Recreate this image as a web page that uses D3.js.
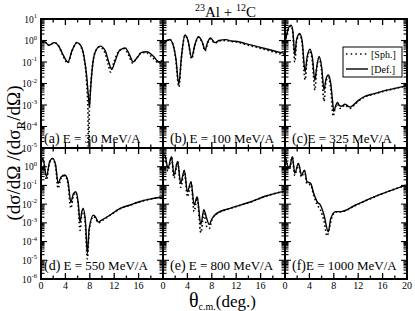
<!DOCTYPE html>
<html>
<head>
<meta charset="utf-8">
<script src="https://cdn.jsdelivr.net/npm/d3@7"></script>
<style>
  body { margin: 0; background: #fff; }
  text { font-family: "Liberation Serif", "Times New Roman", serif; fill: #000; }
</style>
</head>
<body>
<div id="chart"></div>
<script>
// energies and tags of the six panels
const energies = [30, 100, 325, 550, 800, 1000];
const panelTags = ["(a)", "(b)", "(c)", "(d)", "(e)", "(f)"];
const xTickValues = [0, 4, 8, 12, 16, 20];
const topDecades = [1, 0, -1, -2, -3, -4, -5];
const bottomDecades = [0, -1, -2, -3, -4, -5, -6];

// [theta (deg), ratio]
const defA = [[0,0.85],[0.6,0.85],[1.3,0.6],[2.2,0.8],[2.9,0.55],[3.6,0.22],[4.4,0.1],[5.1,0.35],[5.9,0.8],[6.5,0.6],[7.1,0.15],[7.5,0.02],[7.8,0.002],[7.95,0.0008],[8.1,0.004],[8.4,0.05],[8.9,0.3],[9.7,0.55],[10.5,0.35],[11.1,0.1],[11.6,0.045],[12.1,0.1],[12.9,0.35],[13.8,0.45],[14.5,0.22],[15.1,0.1],[15.7,0.15],[16.5,0.28],[17.4,0.3],[18.3,0.2],[19.4,0.1],[20,0.13]];
const sphA = [[0,0.85],[0.6,0.85],[1.3,0.6],[2.2,0.8],[2.9,0.55],[3.6,0.2],[4.4,0.09],[5.1,0.33],[5.9,0.8],[6.5,0.55],[7.1,0.12],[7.5,0.01],[7.7,0.0005],[7.8,0.000001],[7.9,0.0003],[8.1,0.005],[8.4,0.05],[8.9,0.3],[9.6,0.5],[10.4,0.3],[11,0.08],[11.4,0.035],[11.9,0.09],[12.8,0.33],[13.6,0.42],[14.4,0.2],[15,0.09],[15.6,0.14],[16.4,0.26],[17.2,0.28],[18.2,0.17],[19.3,0.09],[20,0.12]];

const defB = [[0,0.7],[0.5,0.95],[1.1,1.1],[1.6,0.7],[2.1,0.15],[2.6,0.009],[3.0,0.15],[3.6,1.8],[4.1,1.0],[4.7,0.16],[5.2,0.6],[5.8,1.5],[6.4,0.9],[6.9,0.37],[7.3,0.8],[7.8,1.3],[8.5,0.8],[9.2,1.0],[10.3,1.1],[11.2,0.95],[12.2,0.9],[13.5,0.72],[15.5,0.52],[17.5,0.37],[19.2,0.28],[20,0.25]];
const sphB = [[0,0.7],[0.5,0.95],[1.1,1.1],[1.6,0.7],[2.1,0.13],[2.6,0.007],[3.0,0.13],[3.6,1.7],[4.1,0.95],[4.7,0.14],[5.2,0.55],[5.8,1.4],[6.4,0.85],[6.9,0.33],[7.3,0.75],[7.8,1.2],[8.5,0.75],[9.2,0.95],[10.3,1.0],[11.2,0.9],[12.2,0.85],[13.5,0.66],[15.5,0.47],[17.5,0.33],[19.2,0.24],[20,0.21]];

const defC = [[0,0.8],[0.3,2],[0.7,4.5],[1.0,5.2],[1.3,2.5],[1.6,0.21],[1.9,1.1],[2.4,2.1],[2.8,1.0],[3.3,0.035],[3.6,0.15],[4.1,0.39],[4.5,0.15],[4.9,0.014],[5.2,0.06],[5.6,0.18],[6.0,0.06],[6.4,0.005],[6.7,0.015],[7.1,0.025],[7.5,0.01],[7.8,0.0015],[8.0,0.0005],[8.3,0.0009],[8.6,0.0013],[9.0,0.0009],[9.4,0.0009],[9.8,0.0011],[10.3,0.0009],[10.7,0.0008],[11.2,0.001],[12,0.0016],[13.1,0.0025],[14.5,0.0033],[15.8,0.0042],[17.5,0.0055],[20,0.008]];
const sphC = [[0,0.8],[0.3,2],[0.7,4.2],[1.0,4.8],[1.3,2.0],[1.6,0.1],[1.9,0.9],[2.4,1.9],[2.8,0.8],[3.3,0.015],[3.6,0.12],[4.1,0.33],[4.5,0.1],[4.9,0.005],[5.2,0.05],[5.6,0.15],[6.0,0.04],[6.4,0.0015],[6.7,0.012],[7.1,0.02],[7.5,0.006],[7.9,0.0003],[8.2,0.0007],[8.6,0.0011],[9.0,0.0007],[9.4,0.0008],[9.8,0.001],[10.3,0.0008],[10.7,0.0007],[11.2,0.0009],[12,0.0015],[13.1,0.0024],[14.5,0.0032],[15.8,0.0041],[17.5,0.0054],[20,0.0078]];

const defD = [[0,1.4],[0.3,2.8],[0.9,0.3],[1.4,1.8],[1.9,2.8],[2.4,1.2],[2.8,0.13],[3.3,0.28],[3.9,0.36],[4.4,0.18],[4.9,0.013],[5.3,0.035],[5.7,0.046],[6.1,0.012],[6.4,0.0011],[6.7,0.004],[6.9,0.006],[7.3,0.001],[7.6,0.000023],[7.9,0.0005],[8.6,0.0026],[9.0,0.0019],[9.4,0.0011],[9.8,0.0013],[11.3,0.0026],[13,0.006],[14.6,0.009],[16,0.013],[18,0.019],[20,0.025]];
const sphD = [[0,1.4],[0.3,2.7],[0.9,0.2],[1.4,1.7],[1.9,2.7],[2.4,1.0],[2.8,0.07],[3.3,0.25],[3.9,0.33],[4.4,0.14],[4.9,0.006],[5.3,0.03],[5.7,0.042],[6.1,0.008],[6.4,0.0004],[6.7,0.0035],[6.9,0.005],[7.3,0.0006],[7.6,0.000012],[7.9,0.0004],[8.6,0.0022],[9.0,0.0016],[9.4,0.001],[9.8,0.0012],[11.3,0.0025],[13,0.0058],[14.6,0.0088],[16,0.0128],[18,0.0188],[20,0.0248]];

const defE = [[0,3.5],[0.3,4.2],[0.8,0.82],[1.4,3.4],[1.8,0.36],[2.4,1.9],[2.9,0.13],[3.5,0.66],[4.0,0.046],[4.6,0.16],[5.1,0.009],[5.6,0.025],[6.2,0.0008],[6.7,0.005],[7.1,0.002],[7.6,0.0008],[8.0,0.0016],[8.8,0.0032],[11,0.006],[14.3,0.013],[17,0.028],[20,0.05]];
const sphE = [[0,3.5],[0.3,4.0],[0.8,0.6],[1.4,3.2],[1.8,0.25],[2.4,1.8],[2.9,0.08],[3.5,0.6],[4.0,0.025],[4.6,0.14],[5.1,0.004],[5.6,0.022],[6.2,0.0003],[6.7,0.003],[7.2,0.0006],[7.6,0.0005],[8.0,0.0014],[8.8,0.003],[11,0.0058],[14.3,0.0128],[17,0.0278],[20,0.0498]];

const defF = [[0,4.2],[0.7,0.82],[1.2,3.4],[1.6,0.45],[2.2,1.5],[2.7,0.36],[3.2,0.66],[3.6,0.16],[4.2,0.13],[4.7,0.038],[5.3,0.013],[5.8,0.009],[6.4,0.0026],[7.1,0.00033],[7.5,0.0017],[8.3,0.004],[9.2,0.004],[11.6,0.009],[15.4,0.031],[20,0.108]];
const sphF = [[0,4.2],[0.7,0.7],[1.2,3.2],[1.6,0.35],[2.2,1.4],[2.7,0.28],[3.2,0.6],[3.6,0.12],[4.2,0.11],[4.7,0.03],[5.3,0.009],[5.8,0.005],[6.4,0.0012],[6.9,0.0002],[7.3,0.0006],[7.6,0.0016],[8.3,0.0038],[9.2,0.0039],[11.6,0.0088],[15.4,0.0305],[20,0.107]];

const defSeries = [defA, defB, defC, defD, defE, defF];
const sphSeries = [sphA, sphB, sphC, sphD, sphE, sphF];

const width = 415;
const height = 311;
const colEdges = [41, 163, 285, 407];
const rowEdges = [19, 148, 279];

const svg = d3.select("#chart").append("svg")
  .attr("width", width)
  .attr("height", height);

energies.forEach((energy, i) => {
  const col = i % 3;
  const row = Math.floor(i / 3);
  const x0 = colEdges[col], x1 = colEdges[col + 1];
  const y0 = rowEdges[row], y1 = rowEdges[row + 1];

  const x = d3.scaleLinear().domain([0, 20]).range([x0, x1]);
  const y = d3.scaleLog().domain([row === 0 ? 1e-5 : 1e-6, 10]).range([y1, y0]);

  const g = svg.append("g");

  svg.append("clipPath").attr("id", "clip" + i)
    .append("rect")
    .attr("x", x0).attr("y", y0)
    .attr("width", x1 - x0).attr("height", y1 - y0);

  const line = d3.line()
    .x(d => x(d[0]))
    .y(d => y(d[1]))
    .curve(d3.curveMonotoneX);

  g.append("path")
    .attr("clip-path", `url(#clip${i})`)
    .attr("d", line(sphSeries[i]))
    .attr("fill", "none")
    .attr("stroke", "#000")
    .attr("stroke-width", 1.7)
    .attr("stroke-dasharray", "1.5,2.6");

  g.append("path")
    .attr("clip-path", `url(#clip${i})`)
    .attr("d", line(defSeries[i]))
    .attr("fill", "none")
    .attr("stroke", "#000")
    .attr("stroke-width", 1.4);

  // x ticks, top and bottom, pointing inward
  const xt = d3.range(0, 21, 2);
  g.selectAll(".xb").data(xt).join("line")
    .attr("x1", d => x(d)).attr("x2", d => x(d))
    .attr("y1", y1).attr("y2", d => y1 - (d % 4 === 0 ? 6 : 3.5))
    .attr("stroke", "#000").attr("stroke-width", 1.3);
  g.selectAll(".xt").data(xt).join("line")
    .attr("x1", d => x(d)).attr("x2", d => x(d))
    .attr("y1", y0).attr("y2", d => y0 + (d % 4 === 0 ? 6 : 3.5))
    .attr("stroke", "#000").attr("stroke-width", 1.3);

  // log ticks, left and right
  const yt = y.ticks();
  const isMajor = d => Math.abs(Math.log10(d) - Math.round(Math.log10(d))) < 1e-6;
  g.selectAll(".yl").data(yt).join("line")
    .attr("x1", x0).attr("x2", d => x0 + (isMajor(d) ? 6 : 3.5))
    .attr("y1", d => y(d)).attr("y2", d => y(d))
    .attr("stroke", "#000").attr("stroke-width", 1.1);
  g.selectAll(".yr").data(yt).join("line")
    .attr("x1", x1).attr("x2", d => x1 - (isMajor(d) ? 6 : 3.5))
    .attr("y1", d => y(d)).attr("y2", d => y(d))
    .attr("stroke", "#000").attr("stroke-width", 1.1);

  g.append("rect")
    .attr("x", x0).attr("y", y0)
    .attr("width", x1 - x0).attr("height", y1 - y0)
    .attr("fill", "none")
    .attr("stroke", "#000")
    .attr("stroke-width", 2);

  // panel label
  const lab = g.append("text")
    .attr("x", x0 + (col === 0 ? 3 : 7))
    .attr("y", row === 0 ? y1 - 5 : y1 - 9)
    .style("font-size", "13px");
  lab.append("tspan").style("font-size", "14px").text(panelTags[i]);
  lab.append("tspan").text((i === 2 || i === 5 ? "" : " ") + `E = ${energy} MeV/A`);

  // y tick labels on the left column
  if (col === 0) {
    const decs = row === 0 ? topDecades : bottomDecades;
    decs.forEach(k => {
      const t = svg.append("text")
        .attr("x", x0 - 4)
        .attr("y", y(Math.pow(10, k)) + 3.5)
        .attr("text-anchor", "end")
        .style("font-size", "9.5px");
      t.append("tspan").text("10");
      t.append("tspan").attr("dy", -4.5).style("font-size", "6.5px").text(k);
    });
  }

  // x tick labels on the bottom row
  if (row === 1) {
    const ticks = col === 2 ? xTickValues : xTickValues.slice(0, 5);
    ticks.forEach(v => {
      svg.append("text")
        .attr("x", x(v))
        .attr("y", y1 + 10)
        .attr("text-anchor", "middle")
        .style("font-size", "10px")
        .text(v);
    });
  }

  // legend in panel (c)
  if (i === 2) {
    const lg = g.append("g");
    lg.append("rect")
      .attr("x", 343).attr("y", 47).attr("width", 59).attr("height", 30)
      .attr("fill", "#fff").attr("stroke", "#000").attr("stroke-width", 1);
    lg.append("line")
      .attr("x1", 346).attr("x2", 368).attr("y1", 54).attr("y2", 54)
      .attr("stroke", "#000").attr("stroke-width", 1.7).attr("stroke-dasharray", "1.5,3.2");
    lg.append("line")
      .attr("x1", 346).attr("x2", 368).attr("y1", 69).attr("y2", 69)
      .attr("stroke", "#000").attr("stroke-width", 1.4);
    lg.append("text").attr("x", 371).attr("y", 57.5).style("font-size", "10px").text("[Sph.]");
    lg.append("text").attr("x", 371).attr("y", 72.5).style("font-size", "10px").text("[Def.]");
  }
});

// title
const title = svg.append("text").attr("x", 195).attr("y", 17).style("font-size", "15px");
title.append("tspan").attr("dy", -6).style("font-size", "10px").text("23");
title.append("tspan").attr("dy", 6).text("Al + ");
title.append("tspan").attr("dy", -6).style("font-size", "10px").text("12");
title.append("tspan").attr("dy", 6).text("C");

// y axis title
const yTitle = svg.append("text")
  .attr("transform", "translate(20,153) rotate(-90)")
  .attr("text-anchor", "middle")
  .style("font-size", "19px");
yTitle.append("tspan").text("(dσ/dΩ /(dσ");
yTitle.append("tspan").attr("dy", 5).style("font-size", "13px").text("R");
yTitle.append("tspan").attr("dy", -5).text("/dΩ)");

// x axis title
const xTitle = svg.append("text").attr("x", 189).attr("y", 307).style("font-size", "17px");
xTitle.append("tspan").style("font-size", "20px").text("θ");
xTitle.append("tspan").attr("dy", 3).style("font-size", "10px").text("c.m.");
xTitle.append("tspan").attr("dy", -3).text("(deg.)");
</script>
</body>
</html>
